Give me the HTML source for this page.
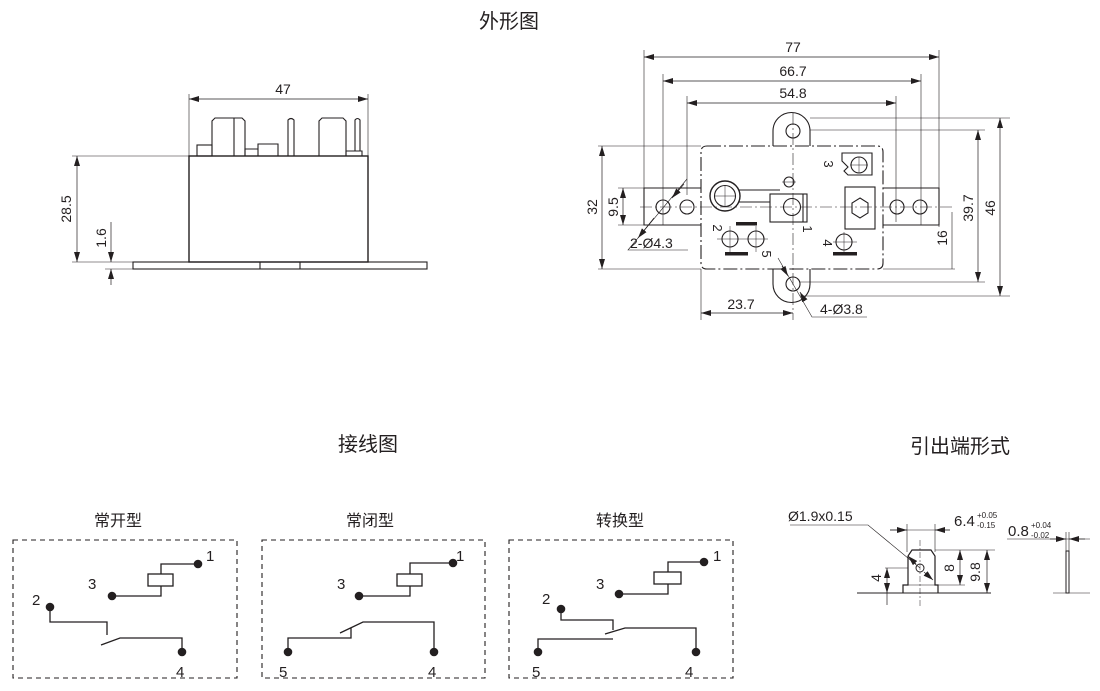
<!DOCTYPE html>
<html><head><meta charset="utf-8"><style>
html,body{margin:0;padding:0;background:#fff}
svg{display:block}
text{font-family:"Liberation Sans","Noto Sans CJK SC",sans-serif;fill:#231f20}
</style></head><body>
<svg width="1100" height="691" viewBox="0 0 1100 691" xmlns="http://www.w3.org/2000/svg">
<defs>
<marker id="a" viewBox="0 0 10 6" refX="10" refY="3" markerWidth="10" markerHeight="6" markerUnits="userSpaceOnUse" orient="auto-start-reverse"><path d="M0,0L10,3L0,6z" fill="#231f20"/></marker>
</defs>
<text x="509" y="28" font-size="20" text-anchor="middle">外形图</text>
<text x="368" y="451" font-size="20" text-anchor="middle">接线图</text>
<text x="960" y="453" font-size="20" text-anchor="middle">引出端形式</text>
<text x="118" y="526" font-size="16" text-anchor="middle">常开型</text>
<text x="370" y="526" font-size="16" text-anchor="middle">常闭型</text>
<text x="620" y="526" font-size="16" text-anchor="middle">转换型</text>

<!-- SIDE VIEW -->
<g stroke="#231f20" fill="none" stroke-width="1.1">
<rect x="189" y="156" width="179" height="106" stroke-width="1.4"/>
<rect x="133" y="262" width="294" height="7"/>
<line x1="260" y1="262" x2="260" y2="269"/><line x1="300" y1="262" x2="300" y2="269"/>
<rect x="197" y="145" width="15" height="11"/>
<path d="M212,156V121l3,-3h27l3,3V156"/><line x1="234" y1="118" x2="234" y2="156"/>
<path d="M245,156V149h13v7M258,156V144h20v12"/>
<path d="M288,156V120q3,-3 6,0V156"/>
<path d="M319,156V121l3,-3h21l3,3V156"/>
<path d="M346,156V151h16v5"/>
<path d="M355,151V120q2.5,-3 5,0V151"/>
<line x1="189" y1="94" x2="189" y2="156" stroke-width="0.6"/><line x1="368" y1="94" x2="368" y2="156" stroke-width="0.6"/>
<line x1="189" y1="99" x2="368" y2="99" stroke-width="0.7" marker-start="url(#a)" marker-end="url(#a)"/>
<line x1="72" y1="156" x2="189" y2="156" stroke-width="0.6"/><line x1="72" y1="262" x2="133" y2="262" stroke-width="0.6"/>
<line x1="105" y1="269" x2="133" y2="269" stroke-width="0.6"/>
<line x1="77" y1="156" x2="77" y2="262" stroke-width="0.7" marker-start="url(#a)" marker-end="url(#a)"/>
<line x1="111" y1="222" x2="111" y2="262" stroke-width="0.7" marker-end="url(#a)"/>
<line x1="111" y1="285" x2="111" y2="269" stroke-width="0.7" marker-end="url(#a)"/>
</g>
<text x="283" y="94" font-size="14" text-anchor="middle">47</text>
<text transform="translate(71,209) rotate(-90)" font-size="14" text-anchor="middle">28.5</text>
<text transform="translate(106,238) rotate(-90)" font-size="14" text-anchor="middle">1.6</text>

<!-- TOP VIEW -->
<g stroke="#231f20" fill="none" stroke-width="1.1">
<g stroke-width="0.6">
<line x1="644" y1="50" x2="644" y2="224"/><line x1="939" y1="50" x2="939" y2="227"/>
<line x1="663" y1="74" x2="663" y2="225"/><line x1="921" y1="74" x2="921" y2="225"/>
<line x1="687" y1="96" x2="687" y2="195"/><line x1="896" y1="96" x2="896" y2="222"/>
</g>
<line x1="644" y1="57" x2="939" y2="57" stroke-width="0.7" marker-start="url(#a)" marker-end="url(#a)"/>
<line x1="663" y1="81" x2="921" y2="81" stroke-width="0.7" marker-start="url(#a)" marker-end="url(#a)"/>
<line x1="687" y1="103" x2="896" y2="103" stroke-width="0.7" marker-start="url(#a)" marker-end="url(#a)"/>
<path d="M707,146H877q6,0 6,6V263q0,6 -6,6H707q-6,0 -6,-6V152q0,-6 6,-6z" stroke-dasharray="14,3,2,3"/>
<path d="M773,146V131a18.5,18.5 0 0 1 37,0V146"/>
<path d="M773,269V284a18.5,18.5 0 0 0 37,0V269"/>
<circle cx="793" cy="131" r="7"/><circle cx="793" cy="284" r="7"/>
<path d="M701,188H644V225H701"/><path d="M883,188H939V225H883"/>
<circle cx="663" cy="207" r="7"/><circle cx="687" cy="207" r="7"/>
<circle cx="897" cy="207" r="7"/><circle cx="920" cy="207" r="7"/>
<g stroke-width="0.6" stroke-dasharray="12,3,2,3">
<line x1="640" y1="207" x2="955" y2="207"/>
<line x1="793" y1="113" x2="793" y2="320"/>
</g>
<circle cx="725" cy="196" r="15" stroke-width="1.4"/><circle cx="725" cy="196" r="10.5"/>
<path d="M738,190H780M738,202H770"/>
<rect x="770" y="194" width="37" height="28"/>
<line x1="803" y1="194" x2="803" y2="222"/>
<circle cx="792" cy="207" r="8.5"/>
<circle cx="789" cy="182" r="5"/>
<path d="M842,153H872V175H848l-4,-4 4,-4 -6,-6z"/>
<circle cx="859" cy="165" r="8"/>
<rect x="845" y="187" width="30" height="42"/>
<path d="M860,198l8,5v10l-8,5l-8,-5v-10z"/>
<circle cx="730" cy="239" r="8"/><circle cx="756" cy="239" r="8"/><circle cx="844" cy="242" r="8"/>
<g stroke-width="0.5"><line x1="717" y1="239" x2="768" y2="239"/><line x1="730" y1="226" x2="730" y2="252"/><line x1="756" y1="226" x2="756" y2="252"/><line x1="833" y1="242" x2="857" y2="242"/><line x1="844" y1="232" x2="844" y2="252"/><line x1="715" y1="196" x2="735" y2="196"/><line x1="725" y1="186" x2="725" y2="206"/><line x1="782" y1="182" x2="796" y2="182"/><line x1="859" y1="157" x2="859" y2="173"/><line x1="850" y1="165" x2="868" y2="165"/></g>
</g>
<g fill="#231f20">
<rect x="736" y="222" width="21" height="3.5"/><rect x="725" y="252" width="23" height="3.5"/><rect x="833" y="252" width="24" height="3.5"/>
</g>
<g stroke="#231f20" fill="none" stroke-width="0.6">
<line x1="810" y1="118" x2="1010" y2="118"/><line x1="810" y1="130" x2="985" y2="130"/>
<line x1="800" y1="282" x2="985" y2="282"/><line x1="800" y1="296" x2="1010" y2="296"/>
<line x1="883" y1="269" x2="955" y2="269"/><line x1="952" y1="212" x2="952" y2="269"/>
<line x1="598" y1="146" x2="701" y2="146"/><line x1="598" y1="269" x2="701" y2="269"/>
<line x1="618" y1="188" x2="644" y2="188"/><line x1="618" y1="225" x2="644" y2="225"/>
<line x1="701" y1="269" x2="701" y2="320"/>
<path d="M687,179L628,250H688"/>
<path d="M778,258L812,317H867"/>
</g>
<g stroke="#231f20" stroke-width="0.7" fill="none">
<line x1="978" y1="130" x2="978" y2="282" marker-start="url(#a)" marker-end="url(#a)"/>
<line x1="1000" y1="118" x2="1000" y2="296" marker-start="url(#a)" marker-end="url(#a)"/>
<line x1="602" y1="146" x2="602" y2="269" marker-start="url(#a)" marker-end="url(#a)"/>
<line x1="623" y1="188" x2="623" y2="225" marker-start="url(#a)" marker-end="url(#a)"/>
<line x1="701" y1="313" x2="793" y2="313" marker-start="url(#a)" marker-end="url(#a)"/>
<line x1="672" y1="198" x2="684" y2="184" marker-start="url(#a)"/>
<line x1="638" y1="238" x2="654" y2="218" marker-start="url(#a)"/>
<line x1="788" y1="276" x2="782" y2="266" marker-start="url(#a)"/>
<line x1="800" y1="292" x2="805" y2="301" marker-start="url(#a)"/>
</g>
<text x="793" y="52" font-size="14" text-anchor="middle">77</text>
<text x="793" y="76" font-size="14" text-anchor="middle">66.7</text>
<text x="793" y="98" font-size="14" text-anchor="middle">54.8</text>
<text x="741" y="309" font-size="14" text-anchor="middle">23.7</text>
<text x="630" y="248" font-size="14">2-Ø4.3</text>
<text x="820" y="314" font-size="14">4-Ø3.8</text>
<text transform="translate(597,207) rotate(-90)" font-size="14" text-anchor="middle">32</text>
<text transform="translate(618,207) rotate(-90)" font-size="14" text-anchor="middle">9.5</text>
<text transform="translate(973,208) rotate(-90)" font-size="14" text-anchor="middle">39.7</text>
<text transform="translate(995,208) rotate(-90)" font-size="14" text-anchor="middle">46</text>
<text transform="translate(947,238) rotate(-90)" font-size="14" text-anchor="middle">16</text>
<text transform="translate(824,164) rotate(90)" font-size="13" text-anchor="middle">3</text>
<text transform="translate(713,228) rotate(90)" font-size="13" text-anchor="middle">2</text>
<text transform="translate(803,229) rotate(90)" font-size="13" text-anchor="middle">1</text>
<text transform="translate(762,254) rotate(90)" font-size="13" text-anchor="middle">5</text>
<text transform="translate(823,243) rotate(90)" font-size="13" text-anchor="middle">4</text>

<!-- WIRING -->
<g stroke="#231f20" fill="none" stroke-width="1.3">
<g stroke-width="1.1">
<rect x="13" y="540" width="224" height="138" stroke-dasharray="5,4"/>
<rect x="262" y="540" width="223" height="138" stroke-dasharray="5,4"/>
<rect x="509" y="540" width="224" height="138" stroke-dasharray="5,4"/>
</g>
<path d="M198,564H161V574M161,586V596H112"/><rect x="148" y="574" width="25" height="12"/>
<path d="M50,607V622H107V635M101,645L120,638H182V652"/>
<path d="M453,563H410V574M410,586V596H359"/><rect x="397" y="574" width="25" height="12"/>
<path d="M288,652V638H351V628M340,633L363,622H434V652"/>
<path d="M704,562H668V572M668,584V594H619"/><rect x="654" y="572" width="27" height="12"/>
<path d="M561,609V620H613V630M538,652V639H613M605,634L625,628H696V652"/>
</g>
<g fill="#231f20">
<circle cx="198" cy="564" r="4.3"/><circle cx="112" cy="596" r="4.3"/><circle cx="50" cy="607" r="4.3"/><circle cx="182" cy="652" r="4.3"/>
<circle cx="453" cy="563" r="4.3"/><circle cx="359" cy="596" r="4.3"/><circle cx="288" cy="652" r="4.3"/><circle cx="434" cy="652" r="4.3"/>
<circle cx="704" cy="562" r="4.3"/><circle cx="619" cy="594" r="4.3"/><circle cx="561" cy="609" r="4.3"/><circle cx="538" cy="652" r="4.3"/><circle cx="696" cy="652" r="4.3"/>
</g>
<g font-size="15">
<text x="206" y="561">1</text><text x="88" y="589">3</text><text x="32" y="605">2</text><text x="176" y="677">4</text>
<text x="456" y="561">1</text><text x="337" y="589">3</text><text x="279" y="677">5</text><text x="428" y="677">4</text>
<text x="713" y="561">1</text><text x="596" y="589">3</text><text x="542" y="604">2</text><text x="532" y="677">5</text><text x="685" y="677">4</text>
</g>

<!-- TERMINAL FORM -->
<g stroke="#231f20" fill="none" stroke-width="1">
<line x1="857" y1="593" x2="991" y2="593"/>
<path d="M903,593V585H908V556l4,-6h19l4,6V585H938V593" stroke-width="1.2"/>
<line x1="908" y1="585" x2="935" y2="585" stroke-width="0.6"/>
<circle cx="920" cy="568" r="4"/>
<line x1="920" y1="540" x2="920" y2="608" stroke-width="0.5" stroke-dasharray="6,2,2,2"/>
<g stroke-width="0.6">
<line x1="907" y1="524" x2="907" y2="552"/><line x1="935" y1="524" x2="935" y2="552"/>
<line x1="890" y1="530" x2="950" y2="530"/>
<line x1="935" y1="550" x2="995" y2="550"/><line x1="938" y1="585" x2="965" y2="585"/>
<line x1="885" y1="568" x2="908" y2="568"/>
<path d="M790,525H868L920,568"/>
<line x1="1007" y1="539" x2="1090" y2="539"/>
<line x1="1066" y1="532" x2="1066" y2="551"/><line x1="1069" y1="532" x2="1069" y2="551"/>
<line x1="1053" y1="593" x2="1090" y2="593"/>
</g>
<rect x="1066" y="551" width="3" height="42"/>
<g stroke-width="0.7">
<line x1="890" y1="530" x2="907" y2="530" marker-end="url(#a)"/>
<line x1="950" y1="530" x2="935" y2="530" marker-end="url(#a)"/>
<line x1="887" y1="568" x2="887" y2="593" marker-start="url(#a)" marker-end="url(#a)"/>
<line x1="887" y1="593" x2="887" y2="605"/>
<line x1="960" y1="550" x2="960" y2="585" marker-start="url(#a)" marker-end="url(#a)"/>
<line x1="987" y1="550" x2="987" y2="593" marker-start="url(#a)" marker-end="url(#a)"/>
<line x1="1050" y1="539" x2="1066" y2="539" marker-end="url(#a)"/>
<line x1="1085" y1="539" x2="1069" y2="539" marker-end="url(#a)"/>
<line x1="908" y1="556" x2="916" y2="564" marker-start="url(#a)"/>
<line x1="933" y1="580" x2="924" y2="572" marker-start="url(#a)"/>
</g>
</g>
<text x="788" y="521" font-size="14">Ø1.9x0.15</text>
<text x="954" y="526" font-size="15">6.4</text><text x="977" y="518" font-size="8">+0.05</text><text x="977" y="528" font-size="8">-0.15</text>
<text x="1008" y="536" font-size="15">0.8</text><text x="1031" y="528" font-size="8">+0.04</text><text x="1031" y="538" font-size="8">-0.02</text>
<text transform="translate(881,578) rotate(-90)" font-size="14" text-anchor="middle">4</text>
<text transform="translate(954,568) rotate(-90)" font-size="14" text-anchor="middle">8</text>
<text transform="translate(980,572) rotate(-90)" font-size="14" text-anchor="middle">9.8</text>
</svg>
</body></html>
